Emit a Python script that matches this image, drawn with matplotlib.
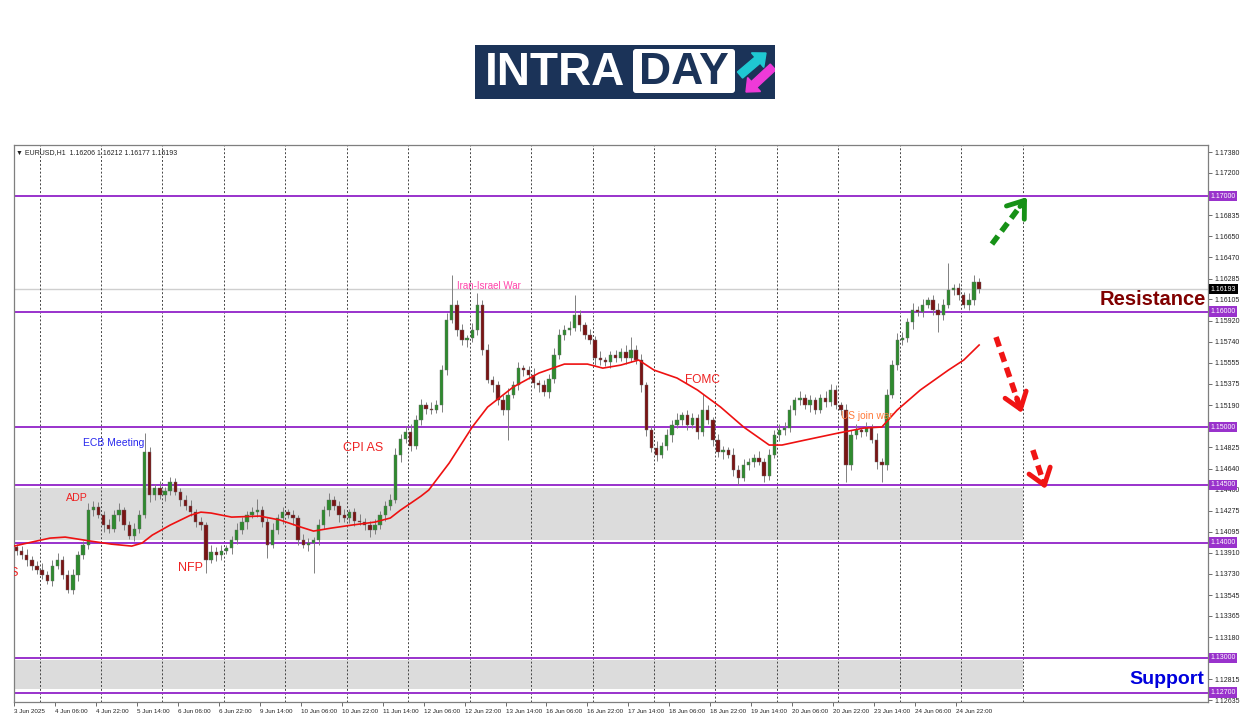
import numpy as np
import matplotlib
matplotlib.use('Agg')
import matplotlib.pyplot as plt
from matplotlib.patches import Rectangle, FancyBboxPatch, FancyArrow

plt.rcParams['font.family'] = ['Liberation Sans', 'DejaVu Sans']

# EURUSD 2-hour candles (closes), first open, wick sizes in pips
first_open = 1.1396
closes = [
    1.1393, 1.1389, 1.1385, 1.1380, 1.1376, 1.1372, 1.1367, 1.1380, 1.1385, 1.1372,
    1.1359, 1.1372, 1.1389, 1.1398, 1.1428, 1.1431, 1.1424, 1.1415, 1.1412, 1.1424,
    1.1428, 1.1415, 1.1406, 1.1412, 1.1424, 1.1478, 1.1441, 1.1447, 1.1441, 1.1445,
    1.1452, 1.1444, 1.1437, 1.1432, 1.1426, 1.1418, 1.1415, 1.1385, 1.1392, 1.1389,
    1.1393, 1.1395, 1.1402, 1.1411, 1.1418, 1.1424, 1.1426, 1.1428, 1.1418, 1.1398,
    1.1411, 1.1421, 1.1426, 1.1424, 1.1421, 1.1402, 1.1398, 1.1400, 1.1402, 1.1415,
    1.1428, 1.1437, 1.1432, 1.1424, 1.1421, 1.1426, 1.1419, 1.1418, 1.1415, 1.1411,
    1.1415, 1.1424, 1.1432, 1.1437, 1.1476, 1.1490, 1.1496, 1.1484, 1.1506, 1.1519,
    1.1516, 1.1515, 1.1519, 1.1549, 1.1593, 1.1606, 1.1584, 1.1575, 1.1577, 1.1584,
    1.1606, 1.1567, 1.1541, 1.1536, 1.1523, 1.1515, 1.1528, 1.1536, 1.1551, 1.1549,
    1.1545, 1.1538, 1.1536, 1.1530, 1.1542, 1.1562, 1.1580, 1.1584, 1.1586, 1.1597,
    1.1588, 1.1580, 1.1575, 1.1560, 1.1558, 1.1556, 1.1562, 1.1560, 1.1565, 1.1560,
    1.1567, 1.1558, 1.1536, 1.1497, 1.1482, 1.1476, 1.1484, 1.1493, 1.1502, 1.1506,
    1.1510, 1.1502, 1.1508, 1.1496, 1.1515, 1.1506, 1.1489, 1.1478, 1.1480, 1.1476,
    1.1463, 1.1456, 1.1467, 1.1470, 1.1473, 1.1470, 1.1458, 1.1476, 1.1493, 1.1497,
    1.1499, 1.1515, 1.1523, 1.1525, 1.1519, 1.1523, 1.1515, 1.1525, 1.1522, 1.1532,
    1.1519, 1.1515, 1.1467, 1.1493, 1.1497, 1.1496, 1.1499, 1.1489, 1.1470, 1.1467,
    1.1528, 1.1554, 1.1575, 1.1577, 1.1591, 1.1601, 1.1600, 1.1606, 1.1610, 1.1601,
    1.1597, 1.1606, 1.1619, 1.1620, 1.1614, 1.1606, 1.1610, 1.1626, 1.16193,
]
wick_up = [
    3, 4, 5, 3, 4, 6, 3, 5, 6, 3,
    4, 5, 4, 3, 6, 5, 4, 3, 5, 4,
    6, 3, 4, 5, 4, 17, 5, 4, 6, 3,
    5, 4, 3, 4, 5, 3, 4, 3, 6, 4,
    5, 3, 4, 6, 4, 3, 5, 10, 4, 3,
    6, 4, 5, 3, 4, 3, 5, 4, 3, 5,
    4, 6, 3, 4, 5, 3, 4, 6, 3, 4,
    5, 3, 4, 5, 6, 4, 5, 7, 4, 5,
    3, 6, 4, 5, 6, 26, 4, 5, 3, 6,
    10, 4, 5, 3, 4, 5, 6, 4, 5, 3,
    4, 6, 3, 5, 4, 6, 5, 4, 6, 17,
    4, 3, 5, 4, 6, 3, 4, 5, 3, 6,
    11, 4, 5, 3, 4, 6, 3, 5, 4, 6,
    3, 5, 4, 3, 14, 4, 3, 5, 4, 3,
    6, 4, 5, 3, 4, 6, 3, 5, 4, 6,
    5, 4, 3, 6, 4, 5, 3, 4, 6, 5,
    4, 3, 5, 4, 6, 3, 5, 4, 6, 3,
    5, 4, 6, 5, 3, 6, 4, 5, 3, 4,
    6, 5, 23, 4, 5, 3, 6, 6, 3,
]
wick_dn = [
    4, 3, 5, 4, 3, 4, 3, 5, 3, 4,
    3, 4, 5, 3, 4, 5, 3, 6, 4, 3,
    5, 4, 3, 5, 4, 3, 6, 4, 3, 5,
    4, 3, 5, 4, 3, 5, 4, 11, 3, 5,
    4, 3, 5, 3, 4, 6, 3, 4, 5, 11,
    3, 4, 5, 3, 6, 4, 3, 5, 26, 4,
    3, 5, 4, 6, 3, 4, 5, 3, 4, 6,
    4, 3, 5, 4, 3, 6, 4, 5, 3, 4,
    5, 4, 3, 6, 4, 3, 5, 4, 6, 3,
    4, 5, 3, 6, 4, 5, 26, 3, 4, 5,
    3, 4, 6, 3, 5, 4, 3, 5, 4, 3,
    5, 4, 3, 6, 4, 3, 5, 4, 3, 5,
    4, 3, 6, 5, 4, 5, 3, 4, 6, 3,
    4, 5, 3, 6, 4, 3, 5, 4, 6, 3,
    5, 6, 3, 4, 5, 3, 6, 4, 3, 5,
    4, 3, 5, 4, 3, 6, 4, 3, 5, 4,
    3, 5, 15, 4, 3, 5, 4, 3, 6, 15,
    4, 3, 5, 4, 3, 6, 4, 5, 3, 4,
    15, 4, 3, 5, 4, 3, 5, 4, 3,
]

# moving average (bar index, price)
ma_bar = [0, 7, 14, 20, 30, 38, 46, 50, 54, 61, 69, 73, 77, 85, 96, 104, 112, 117, 124, 132,
          141, 147, 151, 155, 159, 162, 170, 179, 185, 195, 205, 215, 224, 230, 237, 244, 250,
          259, 267, 276, 285, 295, 300, 309, 322, 332, 339, 345, 354, 365, 371, 377]
ma_val = [1.13969, 1.14004, 1.14038, 1.14047, 1.14012, 1.13986, 1.13969, 1.13995, 1.14064, 1.14151,
          1.14237, 1.14263, 1.14255, 1.14220, 1.14229, 1.14194, 1.14134, 1.14099, 1.14125, 1.14151,
          1.14177, 1.14212, 1.14281, 1.14341, 1.14402, 1.14454, 1.14688, 1.15000, 1.15173, 1.15346,
          1.15467, 1.15545, 1.15545, 1.15510, 1.15536, 1.15580, 1.15493, 1.15424, 1.15320, 1.15173,
          1.15000, 1.14844, 1.14844, 1.14887, 1.14948, 1.14991, 1.15000, 1.15147, 1.15320, 1.15493,
          1.15580, 1.15710]

levels = [1.17, 1.16, 1.15, 1.145, 1.14, 1.13, 1.127]
level_labels = ['1.17000', '1.16000', '1.15000', '1.14500', '1.14000', '1.13000', '1.12700']
zones = [(1.1402, 1.1447), (1.1273, 1.1298)]
zone_end = 394
last_price = 1.16193

price_ticks = [1.17380, 1.17200, 1.16835, 1.16650, 1.16470, 1.16285, 1.16105, 1.15920, 1.15740,
               1.15555, 1.15375, 1.15190, 1.14825, 1.14640, 1.14460, 1.14275, 1.14095, 1.13910,
               1.13730, 1.13545, 1.13365, 1.13180, 1.12815, 1.12635]
time_ticks = list(range(0, 369, 16))
time_labels = ['3 Jun 2025', '4 Jun 06:00', '4 Jun 22:00', '5 Jun 14:00', '6 Jun 06:00', '6 Jun 22:00',
               '9 Jun 14:00', '10 Jun 06:00', '10 Jun 22:00', '11 Jun 14:00', '12 Jun 06:00',
               '12 Jun 22:00', '13 Jun 14:00', '16 Jun 06:00', '16 Jun 22:00', '17 Jun 14:00',
               '18 Jun 06:00', '18 Jun 22:00', '19 Jun 14:00', '20 Jun 06:00', '20 Jun 22:00',
               '23 Jun 14:00', '24 Jun 06:00', '24 Jun 22:00']
day_lines = list(range(10, 395, 24))

events = ['ECB Meeting', 'ADP', 'NFP', 'CPI AS', 'FOMC', 'Iran-Israel War', 'US join war']
event_x = [38.8, 24.6, 69.1, 136.3, 269.1, 185.5, 333.2]
event_y = [1.14861, 1.14385, 1.13778, 1.14818, 1.15407, 1.16221, 1.15095]
event_colors = ['#2828ee', '#ee2222', '#ee2222', '#ee2222', '#ee2222', '#ff44aa', '#ff7a3a']
event_sizes = [7.5, 7.7, 9, 9, 8.6, 7, 7.3]

arrow_x0 = [382, 383.6, 398]
arrow_y0 = [1.16584, 1.15779, 1.14800]
arrow_x1 = [395.7, 393.7, 403]
arrow_y1 = [1.16991, 1.15121, 1.14463]
arrow_colors = ['#169116', '#f01414', '#f01414']

W, H = 1250, 716
fig = plt.figure(figsize=(12.5, 7.16), dpi=100)
ax = fig.add_axes([14 / W, 1 - 702 / H, 1194 / W, 557 / H])

closes = np.array(closes)
opens = np.concatenate([[first_open], closes[:-1]])
highs = np.maximum(opens, closes) + np.array(wick_up) * 0.0001
lows = np.minimum(opens, closes) - np.array(wick_dn) * 0.0001
xs = np.arange(len(closes)) * 2 + 1
bull = closes >= opens

for lo, hi in zones:
    ax.add_patch(Rectangle((0, lo), zone_end, hi - lo, facecolor='#dcdcdc', edgecolor='none', zorder=0))

ax.set_xticks(day_lines, minor=True)
ax.grid(axis='x', which='minor', linestyle=(0, (2, 2)), color='#444444', linewidth=0.7)
ax.axhline(last_price, color='#cfcfcf', linewidth=1, zorder=1)
for lv in levels:
    ax.axhline(lv, color='#9932cc', linewidth=1.4, zorder=2)

ax.vlines(xs, lows, highs, color='#808080', linewidth=0.7, zorder=3)
body_h = np.maximum(np.abs(closes - opens), 0.00002)
ax.bar(xs, body_h, bottom=np.minimum(opens, closes), width=1.3,
       color=np.where(bull, '#2e8b2e', '#7a1414'), edgecolor='#6a6a6a', linewidth=0.3, zorder=4)

ax.plot(ma_bar, ma_val, color='#ee1111', linewidth=1.2, zorder=5)

for t, x, y, c, s in zip(events, event_x, event_y, event_colors, event_sizes):
    ax.text(x, y, t, color=c, fontsize=s, ha='center', va='center', zorder=6)
ax.text(1.6, 1.13735, 'US', color='#ee2222', fontsize=9, ha='right', va='center', clip_on=True)

ax.text(465.5, 1.16108, 'Resistance', color='#800000', fontsize=14.5, fontweight='bold',
        ha='right', va='center', zorder=7)
ax.text(464.8, 1.12817, 'Support', color='#0000dd', fontsize=14, fontweight='bold',
        ha='right', va='center', zorder=7)

for x0, y0, x1, y1, c in zip(arrow_x0, arrow_y0, arrow_x1, arrow_y1, arrow_colors):
    ax.plot([x0, x0 + 0.9 * (x1 - x0)], [y0, y0 + 0.9 * (y1 - y0)], color=c, linewidth=4,
            linestyle=(0, (1.8, 1.1)), solid_capstyle='butt', zorder=8)
    ax.annotate('', xy=(x1, y1), xytext=(x1 - 0.2 * (x1 - x0), y1 - 0.2 * (y1 - y0)),
                arrowprops=dict(arrowstyle='->,head_length=0.55,head_width=0.4', color=c,
                                linewidth=3.5, mutation_scale=20, shrinkA=0, shrinkB=0), zorder=8)

ax.set_xlim(0, 1194 / 2.56)
ax.set_ylim(1.12619, 1.17442)

ax.yaxis.tick_right()
ax.set_yticks(price_ticks)
ax.set_yticklabels(['%.5f' % p for p in price_ticks])
ax.tick_params(axis='y', labelsize=5, length=3, width=0.6, color='#555555', labelcolor='#222222', pad=1.5)
ax.set_xticks(time_ticks)
ax.set_xticklabels(time_labels, ha='left')
ax.tick_params(axis='x', which='major', labelsize=4.5, length=3, width=0.6, color='#555555',
               labelcolor='#222222', pad=2)
ax.tick_params(axis='x', which='minor', length=0)
for lab in ax.get_xticklabels():
    lab.set_x(lab.get_position()[0])
for sp in ax.spines.values():
    sp.set_color('#7f7f7f')
    sp.set_linewidth(0.9)

yt = ax.get_yaxis_transform()
for lv, lab in zip(levels, level_labels):
    ax.text(1.002, lv, lab, transform=yt, fontsize=5, color='white', ha='left', va='center',
            bbox=dict(boxstyle='square,pad=0.25', fc='#9932cc', ec='none'), clip_on=False)
ax.text(1.002, last_price, '%.5f' % last_price, transform=yt, fontsize=5, color='white', ha='left',
        va='center', bbox=dict(boxstyle='square,pad=0.25', fc='black', ec='none'), clip_on=False)

ax.text(0.002, 0.992, '\u25bc EURUSD,H1  1.16206 1.16212 1.16177 1.16193', transform=ax.transAxes,
        fontsize=5, color='#222222', ha='left', va='top')

# logo
lg = fig.add_axes([475 / W, 1 - 99 / H, 300 / W, 54 / H])
lg.set_xlim(0, 300)
lg.set_ylim(54, 0)
lg.axis('off')
lg.add_patch(Rectangle((0, 0), 300, 54, facecolor='#1b3358', edgecolor='none'))
lg.add_patch(FancyBboxPatch((158, 4), 102, 44, boxstyle='round,pad=0,rounding_size=3',
                            facecolor='white', edgecolor='none'))
lg.text(80, 28, 'INTRA', color='white', fontsize=33, fontweight='bold', ha='center', va='center')
lg.text(209, 28, 'DAY', color='#1b3358', fontsize=32, fontweight='bold', ha='center', va='center')
lg.add_patch(FancyArrow(265, 30, 26, -22, width=8, head_width=19, head_length=11,
                        length_includes_head=True, color='#1fc8d2'))
lg.add_patch(FancyArrow(298, 22, -27, 25, width=8, head_width=19, head_length=11,
                        length_includes_head=True, color='#ee3ad8'))

fig.savefig('out.png', dpi=100)
